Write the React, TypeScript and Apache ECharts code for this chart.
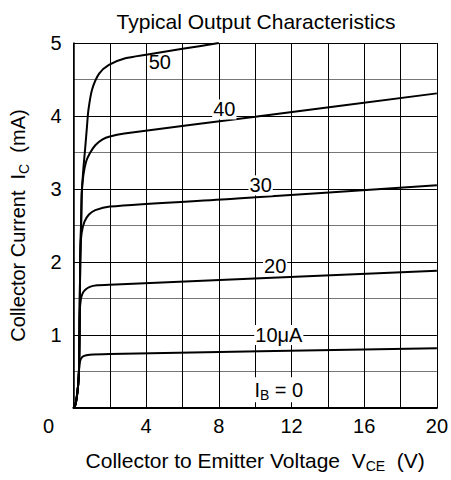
import React, { useEffect, useRef } from "react";
import * as echarts from "echarts";

// Curves: [VCE (V), IC (mA)]
const curveIB0: number[][] = [[0, 0], [20, 0]];
const curve10: number[][] = [
  [0, 0], [0.1, 0.04], [0.18, 0.15], [0.25, 0.3], [0.3, 0.5], [0.33, 0.6], [0.4, 0.67],
  [0.55, 0.71], [0.9, 0.73], [2, 0.74], [20, 0.82],
];
const curve20: number[][] = [
  [0, 0], [0.1, 0.04], [0.18, 0.15], [0.25, 0.3], [0.3, 0.5], [0.32, 0.9], [0.34, 1.3],
  [0.4, 1.48], [0.5, 1.57], [0.65, 1.62], [0.9, 1.66], [1.3, 1.68], [2, 1.69], [20, 1.88],
];
const curve30: number[][] = [
  [0, 0], [0.1, 0.04], [0.18, 0.15], [0.25, 0.3], [0.3, 0.5], [0.33, 1.0], [0.36, 1.8],
  [0.38, 2.2], [0.45, 2.4], [0.6, 2.55], [0.85, 2.65], [1.2, 2.71], [2, 2.76], [9, 2.87], [20, 3.05],
];
const curve40: number[][] = [
  [0, 0], [0.1, 0.04], [0.18, 0.15], [0.25, 0.3], [0.3, 0.5], [0.33, 1.0], [0.37, 2.0],
  [0.42, 2.6], [0.45, 2.95], [0.55, 3.2], [0.7, 3.38], [0.9, 3.49], [1.2, 3.6], [1.6, 3.68],
  [2, 3.72], [2.8, 3.76], [10, 3.99], [20, 4.31],
];
const curve50: number[][] = [
  [0, 0], [0.1, 0.04], [0.18, 0.15], [0.25, 0.3], [0.3, 0.5], [0.33, 1.0], [0.37, 2.0],
  [0.43, 2.6], [0.47, 3.0], [0.55, 3.3], [0.64, 3.55], [0.74, 3.85], [0.82, 4.08], [1.02, 4.36],
  [1.41, 4.58], [1.95, 4.7], [2.85, 4.79], [4, 4.84], [6, 4.92], [8, 5.0],
];

// Curve labels
const labelTexts = ["50", "40", "30", "20", "10μA", "I{sub|B} = 0"];
const labelV = [4.75, 8.3, 10.3, 11.1, 11.3, 11.3];
const labelI = [4.74, 4.09, 3.05, 1.95, 1.0, 0.25];
const labelHasBg = [false, true, true, true, true, true];

const xTicks = [0, 4, 8, 12, 16, 20];
const yTicks = [1, 2, 3, 4, 5];

const FONT = "Liberation Sans, Arial, sans-serif";

export default function App() {
  const ref = useRef<HTMLDivElement>(null);
  useEffect(() => {
    if (!ref.current) return;
    const chart = echarts.init(ref.current, undefined, { renderer: "svg" });
    const curves = [curveIB0, curve10, curve20, curve30, curve40, curve50];
    const subStyle = { fontSize: 14, fontFamily: FONT, color: "#000", padding: [11, 0, 0, 0] };
    const option: any = {
      animation: false,
      backgroundColor: "#fff",
      textStyle: { fontFamily: FONT, color: "#000" },
      title: {
        text: "Typical Output Characteristics",
        left: 251,
        textAlign: "center",
        top: 6,
        textStyle: { fontFamily: FONT, fontSize: 21, fontWeight: "normal", color: "#000" },
      },
      grid: { left: 65, right: 14, top: 43, bottom: 72 },
      xAxis: {
        type: "value",
        min: 0,
        max: 20,
        interval: 2,
        axisLine: { show: true, onZero: false, lineStyle: { color: "#000", width: 2 } },
        axisTick: { show: false },
        axisLabel: {
          margin: 8,
          fontSize: 20,
          fontFamily: FONT,
          color: "#000",
          formatter: (v: number) =>
            xTicks.indexOf(v) < 0 ? "" : v === 0 ? "{z|0}" : String(v),
          rich: { z: { fontSize: 20, fontFamily: FONT, color: "#000", padding: [0, 50, 0, 0] } },
        },
        splitLine: { show: true, lineStyle: { color: "#000", width: 1 } },
        name: "Collector to Emitter Voltage  V{sub|CE}  (V)",
        nameLocation: "middle",
        nameGap: 40,
        nameTextStyle: {
          fontSize: 21,
          fontFamily: FONT,
          color: "#000",
          rich: { sub: subStyle },
        },
      },
      yAxis: {
        type: "value",
        min: 0,
        max: 5,
        interval: 0.5,
        axisLine: { show: true, lineStyle: { color: "#000", width: 1.5 } },
        axisTick: { show: false },
        axisLabel: {
          margin: 12,
          fontSize: 20,
          fontFamily: FONT,
          color: "#000",
          formatter: (v: number) => (yTicks.indexOf(v) < 0 ? "" : String(v)),
        },
        splitLine: { show: true, lineStyle: { color: ["#000", "#777"], width: 1 } },
        name: "Collector Current  I{sub|C}  (mA)",
        nameLocation: "middle",
        nameRotate: 90,
        nameGap: 43,
        nameTextStyle: {
          fontSize: 20,
          fontFamily: FONT,
          color: "#000",
          rich: { sub: { ...subStyle, fontSize: 14 } },
        },
      },
      series: [
        ...curves.map((c) => ({
          type: "line",
          data: c,
          showSymbol: false,
          symbol: "none",
          smooth: 0.25,
          lineStyle: { color: "#000", width: 2 },
          z: 3,
        })),
        {
          type: "scatter",
          symbolSize: 0,
          z: 5,
          itemStyle: { color: "#000", opacity: 1 },
          data: labelTexts.map((t, i) => ({
            value: [labelV[i], labelI[i]],
            name: t,
            label: labelHasBg[i] ? {} : { backgroundColor: "transparent" },
          })),
          label: {
            show: true,
            position: "inside",
            formatter: (p: any) => p.name,
            fontSize: 20,
            fontFamily: FONT,
            color: "#000",
            opacity: 1,
            textBorderWidth: 0,
            textBorderColor: "transparent",
            backgroundColor: "#fff",
            padding: [0, 1],
            rich: { sub: { ...subStyle, textBorderWidth: 0 } },
          },
        },
      ],
    };
    chart.setOption(option);
    return () => chart.dispose();
  }, []);
  return (
    <div
      ref={ref}
      style={{ position: "absolute", left: 0, top: 0, width: 451, height: 480 }}
    />
  );
}
